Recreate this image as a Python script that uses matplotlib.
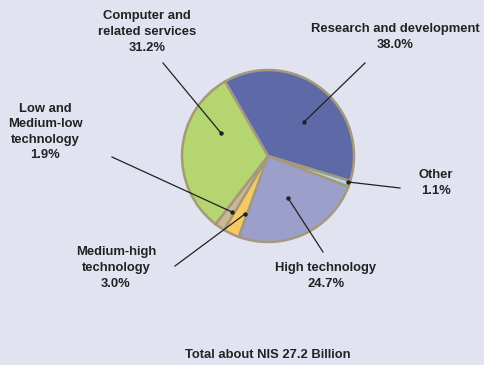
import matplotlib
matplotlib.use("Agg")
import matplotlib.pyplot as plt
from matplotlib import font_manager

categories = ["Research and development", "Other", "High technology",
              "Medium-high\ntechnology", "Low and\nMedium-low\ntechnology",
              "Computer and\nrelated services"]
shares = [38.0, 1.1, 24.7, 3.0, 1.9, 31.2]
colors = ["#5e6aa8", "#a9d9e6", "#9b9fc9", "#f7c965", "#c9b995", "#b4d56f"]
total_label = "Total about NIS 27.2 Billion"

names = {f.name for f in font_manager.fontManager.ttflist}
fam = "Liberation Sans Narrow" if "Liberation Sans Narrow" in names else "Liberation Sans"
plt.rcParams["font.family"] = [fam, "DejaVu Sans"]

W, H = 484, 365
fig = plt.figure(figsize=(W / 100, H / 100), dpi=100)
bg = "#e1e3f0"
fig.patch.set_facecolor(bg)
ax = fig.add_axes([0, 0, 1, 1])
ax.set_facecolor(bg)

cx, cy, r = 268, H - 156, 86
ax.pie(shares, colors=colors, startangle=120, counterclock=False,
       center=(cx, cy), radius=r,
       wedgeprops=dict(edgecolor="#a5997c", linewidth=1.8), frame=True)
ax.set_xlim(0, W)
ax.set_ylim(0, H)
ax.set_aspect("equal")
ax.axis("off")

# label layout: (text x, text y, ha, line start, dot)  in pixel coords (y down)
layout = [
    (395, 37, "center", (365, 63), (304, 122)),
    (436, 183, "center", (400, 188), (348, 182)),
    (326, 276, "center", (323, 252), (288, 198)),
    (116, 268, "center", (175, 266), (245, 214)),
    (45, 132, "center", (112, 157), (232, 212)),
    (147, 32, "center", (163, 63), (221, 133)),
]
for cat, val, (tx, ty, ha, p0, p1) in zip(categories, shares, layout):
    ax.text(tx, H - ty, f"{cat}\n{val:.1f}%", ha=ha, va="center",
            fontsize=9.4, fontweight="bold", color="#222222", linespacing=1.4)
    ax.plot([p0[0], p1[0]], [H - p0[1], H - p1[1]], color="#222222", lw=0.9)
    ax.plot(p1[0], H - p1[1], "o", color="#222222", ms=2.2)

ax.text(268, H - 355, total_label, ha="center", va="center", fontsize=9.4,
        fontweight="bold", color="#222222")

fig.savefig("out.png", dpi=100, facecolor=bg)
